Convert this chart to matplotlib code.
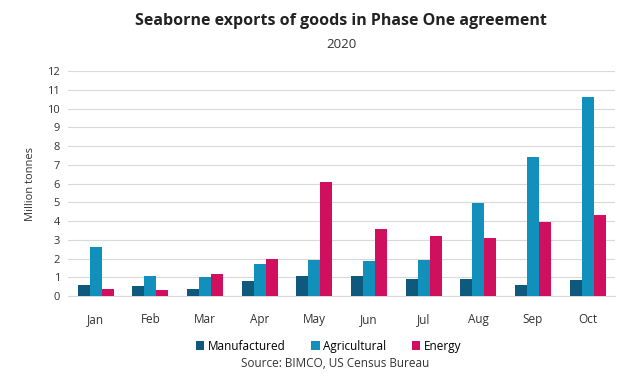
import numpy as np
import matplotlib
matplotlib.use("Agg")
import matplotlib.pyplot as plt

plt.rcParams['font.family'] = ['Open Sans', 'DejaVu Sans']

months = ["Jan", "Feb", "Mar", "Apr", "May", "Jun", "Jul", "Aug", "Sep", "Oct"]
manufactured = [0.6, 0.55, 0.35, 0.8, 1.05, 1.05, 0.9, 0.9, 0.6, 0.85]
agricultural = [2.6, 1.05, 1.0, 1.7, 1.9, 1.85, 1.9, 4.95, 7.4, 10.6]
energy = [0.4, 0.3, 1.2, 1.95, 6.1, 3.55, 3.2, 3.1, 3.95, 4.3]

colors = ["#0f5a7c", "#1090bb", "#d0105e"]

fig = plt.figure(figsize=(6.32, 3.88), dpi=100)
ax = fig.add_axes([0.108, 0.237, 0.865, 0.58])

x = np.arange(len(months))
w = 0.22
ax.bar(x - w, manufactured, w, color=colors[0], label="Manufactured", zorder=3)
ax.bar(x, agricultural, w, color=colors[1], label="Agricultural", zorder=3)
ax.bar(x + w, energy, w, color=colors[2], label="Energy", zorder=3)

ax.set_ylim(0, 12)
ax.set_yticks(range(0, 13))
ax.set_xlim(-0.5, len(months) - 0.5)
ax.set_xticks(x)
ax.set_xticklabels(months)
ax.grid(axis='y', color='#d9d9d9', linewidth=0.8, zorder=0)
for s in ["top", "right", "left"]:
    ax.spines[s].set_visible(False)
ax.spines["bottom"].set_color('#d9d9d9')
ax.tick_params(axis='both', length=0, labelsize=8, colors='#333333', pad=6)
ax.tick_params(axis='x', pad=12, labelsize=8.5)
ax.set_ylabel("Million tonnes", fontsize=8, color='#333333', labelpad=8)

fig.text(0.54, 0.935, "Seaborne exports of goods in Phase One agreement",
         ha='center', fontsize=11.5, fontweight='bold', color='#222222')
fig.text(0.54, 0.877, "2020", ha='center', fontsize=9.5, color='#333333')

fig.legend(loc='center', bbox_to_anchor=(0.52, 0.108), ncol=3, frameon=False,
           fontsize=8.5, handlelength=0.7, handleheight=0.7, handletextpad=0.3,
           columnspacing=2.2)
fig.text(0.53, 0.055, "Source: BIMCO, US Census Bureau", ha='center',
         fontsize=8.5, color='#333333')

fig.savefig("out.png", dpi=100)
